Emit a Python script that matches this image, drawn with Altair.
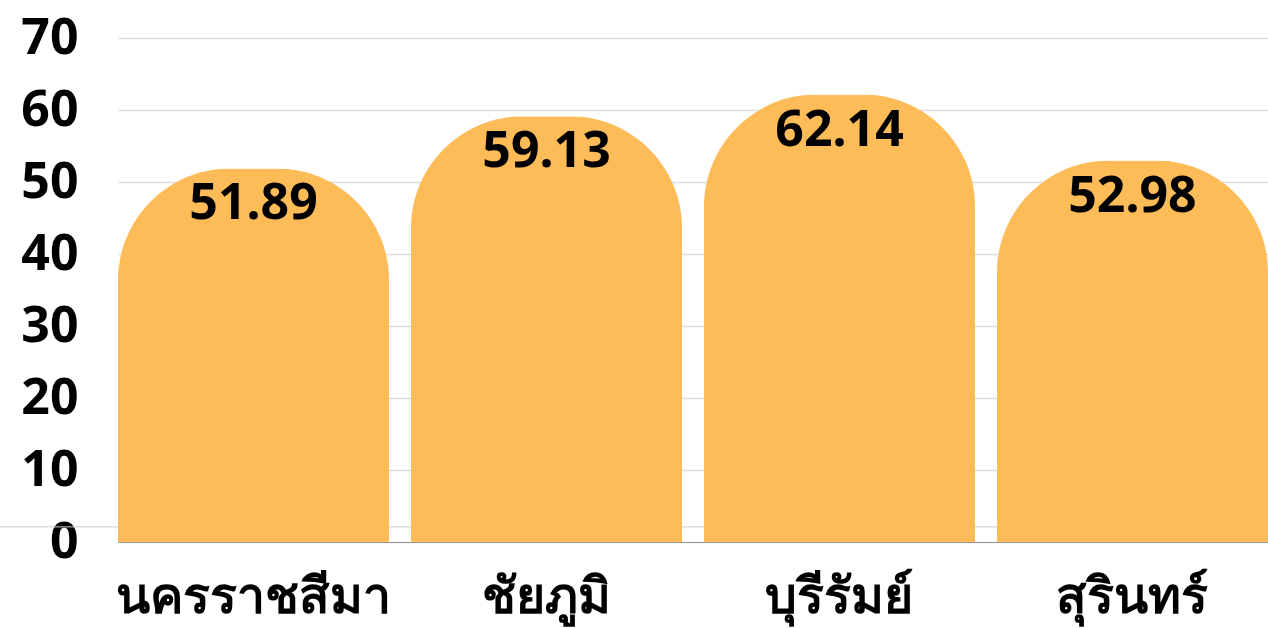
import altair as alt
import pandas as pd

provinces = ["นครราชสีมา", "ชัยภูมิ", "บุรีรัมย์", "สุรินทร์"]
values = [51.89, 59.13, 62.14, 52.98]
y_ticks = [0, 10, 20, 30, 40, 50, 60, 70]

df = pd.DataFrame({"province": provinces, "value": values})
df["label"] = df["value"].map(lambda v: f"{v:.2f}")

FONT = "Noto Sans"
W, H = 1150, 504

x_axis = alt.Axis(
    title=None, labelAngle=0, ticks=False, domain=True, domainColor="#9a9a9a",
    labelFont=FONT, labelFontSize=50, labelFontWeight="bold", labelColor="#000000",
    labelPadding=30, grid=False, labelLimit=0,
)
y_axis = alt.Axis(
    title=None, values=y_ticks, ticks=False, domain=False,
    grid=True, gridColor="#dddddd", gridWidth=1.5,
    labelFont=FONT, labelFontSize=50, labelFontWeight="bold",
    labelColor="#000000", labelPadding=40,
)
y_scale = alt.Scale(domain=[0, 70], nice=False)
x_scale = alt.Scale(paddingInner=0.075, paddingOuter=0)

base = alt.Chart(df)

extra_line = alt.Chart(pd.DataFrame({"v": [2.1]})).mark_rule(
    color="#cccccc", strokeWidth=1, clip=False
).encode(
    y=alt.Y("v:Q", scale=y_scale, axis=y_axis),
    x=alt.value(-118),
    x2=alt.value(W),
)

bars = base.mark_bar(
    color="#FEBC59", cornerRadiusTopLeft=112, cornerRadiusTopRight=112
).encode(
    x=alt.X("province:N", sort=provinces, scale=x_scale, axis=x_axis),
    y=alt.Y("value:Q", scale=y_scale, axis=y_axis),
)

texts = base.mark_text(
    font=FONT, fontSize=50, fontWeight="bold", color="#000000",
    baseline="alphabetic", dy=51,
).encode(
    x=alt.X("province:N", sort=provinces, scale=x_scale, axis=x_axis),
    y=alt.Y("value:Q", scale=y_scale, axis=y_axis),
    text="label:N",
)

chart = alt.layer(extra_line, bars, texts).properties(
    width=W, height=H,
    autosize=alt.AutoSizeParams(type="none"),
    padding={"left": 118, "top": 38, "right": 0, "bottom": 86},
).configure(background="#ffffff").configure_view(strokeWidth=0, stroke="transparent")

chart.save("out.html", embed_options={"renderer": "svg", "actions": False})
